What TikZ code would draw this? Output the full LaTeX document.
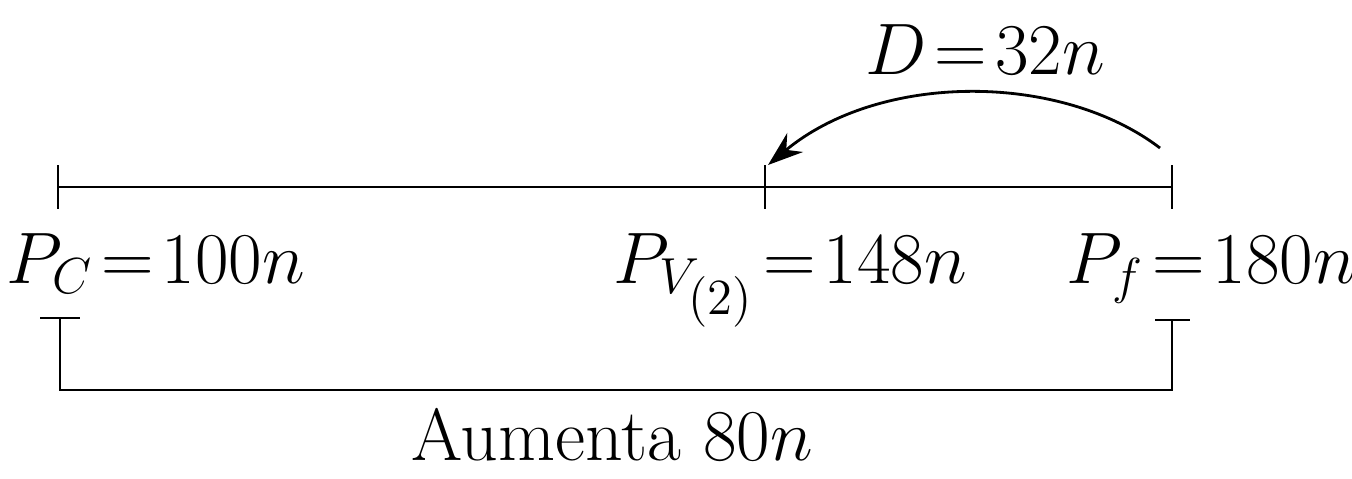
\documentclass[tikz,border=0pt]{standalone}
\usepackage{amsmath}
\usepackage{amssymb}
\usepackage{xcolor}
\usepackage{tikz}
\usetikzlibrary{arrows.meta}

\begin{document}
\begin{tikzpicture}[x=0.01cm,y=-0.01cm,line width=0.8pt,
        every node/.style={font=\fontsize{21}{25}\selectfont,inner sep=0pt}]
        \useasboundingbox (0,0) rectangle (1352,478);

        \coordinate (c) at (58,187);
        \coordinate (v) at (765,187);
        \coordinate (f) at (1172,187);

        \draw (c) -- (f);
        \foreach \p in {c,v,f}
            \draw (\p) ++(0,-22) -- ++(0,44);

        \node[anchor=base west] (pc) at (5,283) {$P_C\!=\!100n$};
        \node[anchor=base west] (pv) at (612,283) {$P_{V_{\scriptstyle(2)}}\!=\!148n$};
        \node[anchor=base west] (pf) at (1065,283) {$P_f\!=\!180n$};

        \coordinate (a1) at (1160,148);
        \coordinate (a2) at (768,165);
        \draw[-{Stealth[length=10pt,width=7pt]}] (a1) .. controls (1060,72) and (880,72) .. (a2);
        \node[anchor=base] (d) at (985,74) {$D\!=\!32n$};

        \coordinate (b1) at (60,318);
        \coordinate (b2) at (1172,320);
        \draw (b1) -- (b1 |- 0,390) -- (b2 |- 0,390) -- (b2);
        \draw (b1) ++(-20,0) -- ++(40,0);
        \draw (b2) ++(-17,0) -- ++(35,0);

        \node[anchor=base] (aum) at (612,460) {Aumenta $80n$};
    \end{tikzpicture}
\end{document}
